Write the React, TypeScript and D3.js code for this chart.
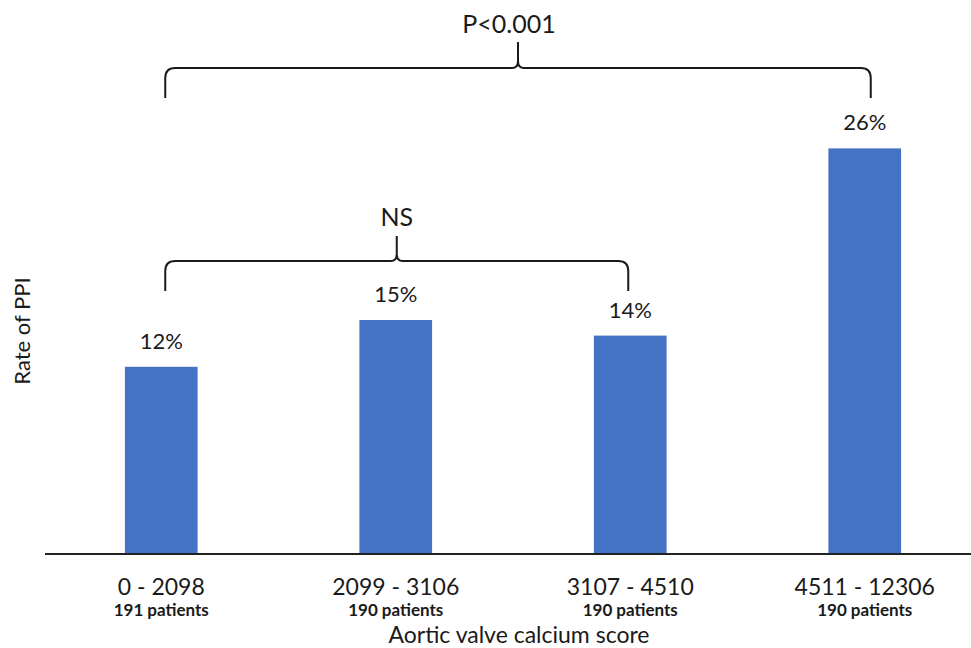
import React from "react";
import * as d3 from "d3";

// Calcium score groups and PPI rates
const categories: string[] = ["0 - 2098", "2099 - 3106", "3107 - 4510", "4511 - 12306"];
const patients: string[] = ["191 patients", "190 patients", "190 patients", "190 patients"];
const ppiRates: number[] = [12, 15, 14, 26];

// Significance brackets: [fromIndex, toIndex, label]
const bracketLabels: string[] = ["NS", "P<0.001"];
const bracketFrom: number[] = [0, 0];
const bracketTo: number[] = [2, 3];

const W = 971;
const H = 648;
const FONT = "Lato, 'Open Sans', sans-serif";
const BAR = "#4472C4";
const INK = "#1a1a1a";

export default function App() {
  const baseY = 554;
  const x = d3
    .scaleBand<number>()
    .domain(d3.range(categories.length))
    .range([44, 982])
    .paddingInner(0.69)
    .paddingOuter(0.345);
  const y = d3.scaleLinear().domain([0, 30]).range([baseY, baseY - 30 * 15.6]);

  const cx = (i: number) => (x(i) as number) + x.bandwidth() / 2;

  // curly brace spanning two bars
  const brace = (x1: number, x2: number, yH: number, yEnd: number, yTip: number) => {
    const r = 10;
    const m = (x1 + x2) / 2;
    const p = d3.path();
    p.moveTo(x1, yEnd);
    p.lineTo(x1, yH + r);
    p.quadraticCurveTo(x1, yH, x1 + r, yH);
    p.lineTo(m - 6, yH);
    p.quadraticCurveTo(m, yH, m, yH - 7);
    p.lineTo(m, yTip);
    p.moveTo(x2, yEnd);
    p.lineTo(x2, yH + r);
    p.quadraticCurveTo(x2, yH, x2 - r, yH);
    p.lineTo(m + 6, yH);
    p.quadraticCurveTo(m, yH, m, yH - 7);
    return p.toString();
  };

  const braceGeo = [
    { yH: 261, yEnd: 291, yTip: 236, textY: 226, dx: 0 },
    { yH: 68, yEnd: 98, yTip: 42, textY: 33, dx: -9 },
  ];

  return (
    <svg
      width={W}
      height={H}
      style={{ display: "block", position: "fixed", left: 0, top: 0, fontFamily: FONT }}
    >
      <rect width={W} height={H} fill="#fff" />

      {ppiRates.map((v, i) => (
        <g key={i}>
          <rect x={x(i)} y={y(v)} width={x.bandwidth()} height={baseY - y(v)} fill={BAR} />
          <text x={cx(i)} y={y(v) - 18} textAnchor="middle" fontSize={22} fill={INK}>
            {v}%
          </text>
          <text x={cx(i)} y={595} textAnchor="middle" fontSize={23} fill={INK}>
            {categories[i]}
          </text>
          <text x={cx(i)} y={616} textAnchor="middle" fontSize={17} fontWeight="bold" fill={INK}>
            {patients[i]}
          </text>
        </g>
      ))}

      <line x1={45} x2={W} y1={baseY} y2={baseY} stroke="#222" strokeWidth={2.2} />

      {bracketLabels.map((lab, k) => {
        const g = braceGeo[k];
        const x1 = cx(bracketFrom[k]) + 4;
        const x2 = cx(bracketTo[k]) - 2 + (k === 1 ? 8 : 0);
        return (
          <g key={lab}>
            <path d={brace(x1, x2, g.yH, g.yEnd, g.yTip)} fill="none" stroke={INK} strokeWidth={2} />
            <text x={(x1 + x2) / 2 + g.dx} y={g.textY} textAnchor="middle" fontSize={25} fill={INK}>
              {lab}
            </text>
          </g>
        );
      })}

      <text x={519} y={643} textAnchor="middle" fontSize={23} fill={INK}>
        Aortic valve calcium score
      </text>
      <text
        transform={`translate(30,331) rotate(-90)`}
        textAnchor="middle"
        fontSize={22}
        fill={INK}
      >
        Rate of PPI
      </text>
    </svg>
  );
}
